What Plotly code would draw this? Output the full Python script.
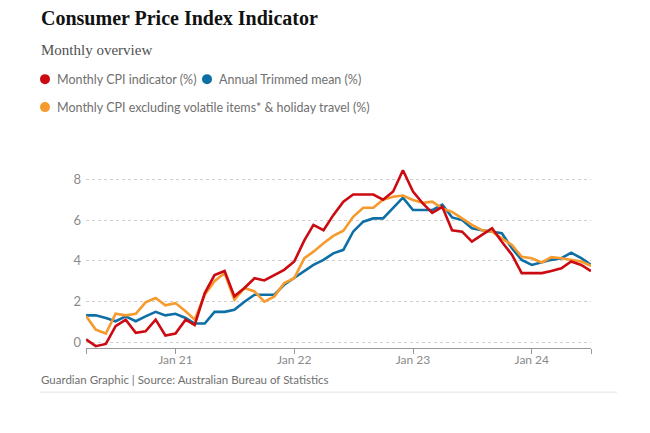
import plotly.graph_objects as go
import pandas as pd

months = pd.date_range("2020-04-01", "2024-07-01", freq="MS").strftime("%Y-%m-%d").tolist()

cpi_indicator = [0.15, -0.18, -0.07, 0.8, 1.12, 0.47, 0.55, 1.12, 0.34,
                 0.44, 1.12, 0.85, 2.42, 3.3, 3.5, 2.26, 2.67, 3.15, 3.04, 3.3, 3.56,
                 3.97, 5.0, 5.76, 5.5, 6.24, 6.9, 7.25, 7.25, 7.25, 7.0, 7.4, 8.44,
                 7.4, 6.8, 6.35, 6.65, 5.5, 5.43, 4.94, 5.27, 5.6, 4.94, 4.3, 3.4,
                 3.4, 3.4, 3.5, 3.64, 3.97, 3.8, 3.5]

trimmed_mean = [1.33, 1.33, 1.2, 1.04, 1.28, 1.04, 1.28, 1.5, 1.33,
                1.41, 1.2, 0.93, 0.93, 1.5, 1.5, 1.6, 2.0, 2.34, 2.34, 2.34, 2.83,
                3.15, 3.48, 3.8, 4.05, 4.37, 4.54, 5.43, 5.92, 6.08, 6.08, 6.6, 7.1,
                6.49, 6.49, 6.49, 6.75, 6.13, 6.0, 5.6, 5.5, 5.43, 5.35, 4.62, 4.05,
                3.8, 3.92, 4.05, 4.13, 4.4, 4.13, 3.8]

cpi_ex_volatile = [1.3, 0.63, 0.44, 1.41, 1.33, 1.41, 1.97, 2.18, 1.82,
                   1.93, 1.53, 1.12, 2.34, 3.0, 3.4, 2.1, 2.67, 2.5, 2.0, 2.26, 2.91,
                   3.15, 4.13, 4.45, 4.86, 5.22, 5.48, 6.16, 6.6, 6.6, 7.0, 7.14, 7.2,
                   6.98, 6.84, 6.9, 6.57, 6.4, 6.08, 5.76, 5.5, 5.43, 5.1, 4.78, 4.2,
                   4.13, 3.92, 4.18, 4.13, 4.05, 3.97, 3.76]

series_names = ["Monthly CPI indicator (%)", "Annual Trimmed mean (%)",
                "Monthly CPI excluding volatile items* & holiday travel (%)"]
colors = ["#cc0a11", "#0d6fa6", "#f79a2e"]

tick_vals = ["2020-04-01", "2021-01-01", "2022-01-01", "2023-01-01", "2024-01-01", "2024-07-01"]
tick_text = ["", "Jan 21", "Jan 22", "Jan 23", "Jan 24", ""]

# page has an 8px body margin, so figure coords = screen coords - 8
OFF = 8
W, H = 650, 433
L, R, T = 86 - OFF, 650 - (591 - OFF), 167 - OFF
B = H - (348.3 - OFF)
pw, ph = W - L - R, H - T - B

def px(x):
    return (x - OFF - L) / pw

def py(y):
    return (H - B - (y - OFF)) / ph

fig = go.Figure()
for vals, name, col in [(trimmed_mean, series_names[1], colors[1]),
                        (cpi_ex_volatile, series_names[2], colors[2]),
                        (cpi_indicator, series_names[0], colors[0])]:
    fig.add_trace(go.Scatter(x=months, y=vals, mode="lines", name=name,
                             line=dict(color=col, width=2.6), showlegend=False,
                             hoverinfo="skip"))

sans = "Lato, 'Open Sans', sans-serif"
annotations = [
    dict(text="<b>Consumer Price Index Indicator</b>", x=px(39), y=py(18), xref="paper", yref="paper",
         xanchor="left", yanchor="middle", showarrow=False,
         font=dict(family="'Liberation Serif', serif", size=20, color="#121212")),
    dict(text="Monthly overview", x=px(39), y=py(50), xref="paper", yref="paper",
         xanchor="left", yanchor="middle", showarrow=False,
         font=dict(family="'Liberation Serif', serif", size=15, color="#505050")),
    dict(text=series_names[0], x=px(55), y=py(79), xref="paper", yref="paper",
         xanchor="left", yanchor="middle", showarrow=False,
         font=dict(family=sans, size=12.5, color="#707070")),
    dict(text=series_names[1], x=px(217), y=py(79), xref="paper", yref="paper",
         xanchor="left", yanchor="middle", showarrow=False,
         font=dict(family=sans, size=12.5, color="#707070")),
    dict(text=series_names[2], x=px(55), y=py(107), xref="paper", yref="paper",
         xanchor="left", yanchor="middle", showarrow=False,
         font=dict(family=sans, size=12.5, color="#707070")),
    dict(text="Guardian Graphic | Source: Australian Bureau of Statistics", x=px(39), y=py(380),
         xref="paper", yref="paper", xanchor="left", yanchor="middle", showarrow=False,
         font=dict(family=sans, size=11.5, color="#707070")),
]

shapes = []
for cx, cy, col in [(45, 79, colors[0]), (207, 79, colors[1]), (45, 107, colors[2])]:
    shapes.append(dict(type="circle", xref="paper", yref="paper",
                       x0=px(cx - 5), x1=px(cx + 5), y0=py(cy + 5), y1=py(cy - 5),
                       fillcolor=col, line=dict(width=0)))
shapes.append(dict(type="line", xref="paper", yref="paper", x0=px(40), x1=px(617),
                   y0=py(392.5), y1=py(392.5), line=dict(color="#ececec", width=1.5)))

fig.update_layout(
    width=W, height=H,
    margin=dict(l=L, r=R, t=T, b=B, pad=0),
    paper_bgcolor="white", plot_bgcolor="white",
    annotations=annotations, shapes=shapes,
    xaxis=dict(type="date", range=["2020-04-01", "2024-07-01"],
               tickvals=tick_vals, ticktext=tick_text,
               showgrid=False, zeroline=False,
               showline=True, linecolor="#999999", linewidth=1,
               ticks="outside", ticklen=5, tickcolor="#999999", tickwidth=1,
               ticklabelstandoff=-4,
               tickfont=dict(family=sans, size=12, color="#8a8a8a")),
    yaxis=dict(range=[-0.27, 8.6], tickvals=[0, 2, 4, 6, 8],
               showgrid=True, gridcolor="#cfcfcf", griddash="dot", gridwidth=1,
               zeroline=False, showline=False, ticks="",
               ticklabelstandoff=4,
               tickfont=dict(family=sans, size=13, color="#8a8a8a")),
    showlegend=False,
)

fig.write_html("out.html")
